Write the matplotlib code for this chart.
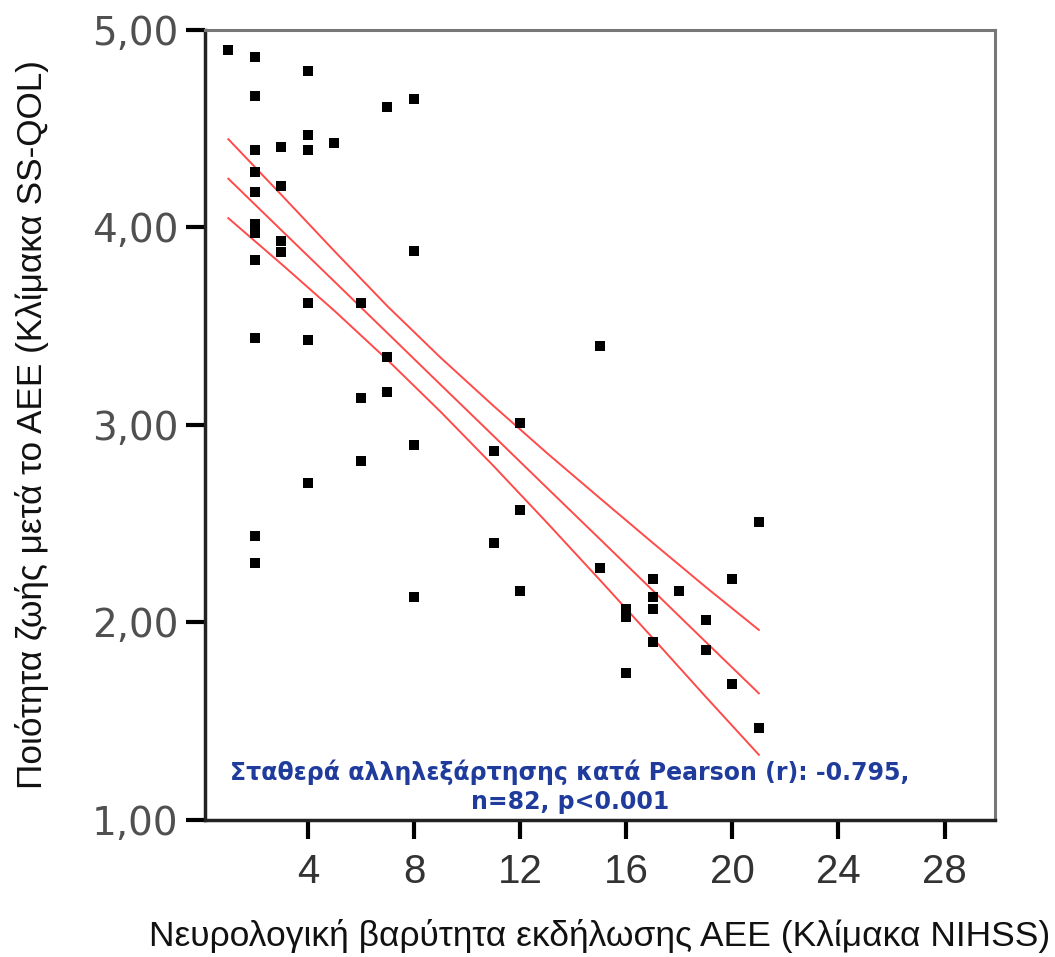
import matplotlib
matplotlib.use("Agg")
import matplotlib.pyplot as plt
from matplotlib.ticker import FixedLocator, FuncFormatter

# NIHSS score (x) and SS-QOL score (y) for the visible points
nihss = [1,
         2, 2, 2, 2, 2, 2, 2, 2, 2, 2, 2,
         3, 3, 3, 3,
         4, 4, 4, 4, 4, 4,
         5,
         6, 6, 6,
         7, 7, 7,
         8, 8, 8, 8,
         11, 11,
         12, 12, 12,
         15, 15,
         16, 16, 16,
         17, 17, 17, 17,
         18,
         19, 19,
         20, 20,
         21, 21]
ssqol = [4.90,
         4.865, 4.667, 4.39, 4.28, 4.18, 4.02, 3.97, 3.834, 3.442, 2.44, 2.30,
         4.405, 4.21, 3.93, 3.876,
         4.79, 4.47, 4.39, 3.62, 3.43, 2.705,
         4.43,
         3.62, 3.136, 2.815,
         4.61, 3.344, 3.166,
         4.65, 3.88, 2.90, 2.13,
         2.87, 2.40,
         3.01, 2.567, 2.16,
         3.40, 2.274,
         2.07, 2.03, 1.744,
         2.22, 2.127, 2.07, 1.90,
         2.16,
         2.01, 1.86,
         2.22, 1.69,
         2.51, 1.468]

# regression line and its 95% band
fit_x = [1, 3, 5, 7, 9, 11, 13, 15, 17, 19, 21]
fit_mean = [4.247, 3.986, 3.726, 3.465, 3.204, 2.944, 2.683, 2.423, 2.162, 1.901, 1.641]
fit_upper = [4.447, 4.165, 3.880, 3.601, 3.341, 3.096, 2.859, 2.630, 2.403, 2.179, 1.962]
fit_lower = [4.047, 3.815, 3.578, 3.329, 3.067, 2.792, 2.507, 2.216, 1.921, 1.623, 1.330]

x_ticks = [4, 8, 12, 16, 20, 24, 28]
y_ticks = [1, 2, 3, 4, 5]

xlabel = "Νευρολογική βαρύτητα εκδήλωσης ΑΕΕ (Κλίμακα NIHSS)"
ylabel = "Ποιότητα ζωής μετά το ΑΕΕ (Κλίμακα SS-QOL)"
annot = "Σταθερά αλληλεξάρτησης κατά Pearson (r): -0.795,\nn=82, p<0.001"

fig = plt.figure(figsize=(10.55, 9.57), dpi=100)
ax = fig.add_axes([0.1943, 0.1432, 0.7488, 0.8255])

line_color = "#ff4a4a"
for ys in (fit_upper, fit_mean, fit_lower):
    ax.plot(fit_x, ys, color=line_color, lw=1.4, zorder=2)

ax.scatter(nihss, ssqol, marker="s", s=58, color="black", linewidths=0, zorder=3)

ax.set_xlim(0.12, 29.9)
ax.set_ylim(1, 5)
ax.xaxis.set_major_locator(FixedLocator(x_ticks))
ax.yaxis.set_major_locator(FixedLocator(y_ticks))
ax.yaxis.set_major_formatter(FuncFormatter(lambda v, p: f"{v:.2f}".replace(".", ",")))

narrow = ["Liberation Sans", "DejaVu Sans"]
ax.tick_params(axis="x", labelsize=29, length=14, width=3, color="black",
               direction="out", pad=10, labelcolor="#333333")
ax.tick_params(axis="y", labelsize=28, length=14, width=3, color="black",
               direction="out", pad=5, labelcolor="#505050")
for lab in ax.get_xticklabels():
    lab.set_fontfamily(narrow)
for lab in ax.get_yticklabels():
    lab.set_fontfamily(["DejaVu Sans"])

for side in ("left", "bottom"):
    ax.spines[side].set_color("#222222")
    ax.spines[side].set_linewidth(2.5)
for side in ("top", "right"):
    ax.spines[side].set_color("#777777")
    ax.spines[side].set_linewidth(2.2)

fig.text(0.5680, 0.012, xlabel, ha="center", va="baseline", fontsize=25.5,
         family=narrow, color="#111111")
fig.text(0.014, 0.556, ylabel, ha="left", va="center", rotation=90,
         fontsize=25.3, family=narrow, color="#111111")

ax.text(0.462, 0.042, annot, transform=ax.transAxes, ha="center", va="center",
        fontsize=17, fontweight="bold", color="#1f3c9c", linespacing=1.3,
        family=["DejaVu Sans"])

fig.savefig("out.png", dpi=100)
